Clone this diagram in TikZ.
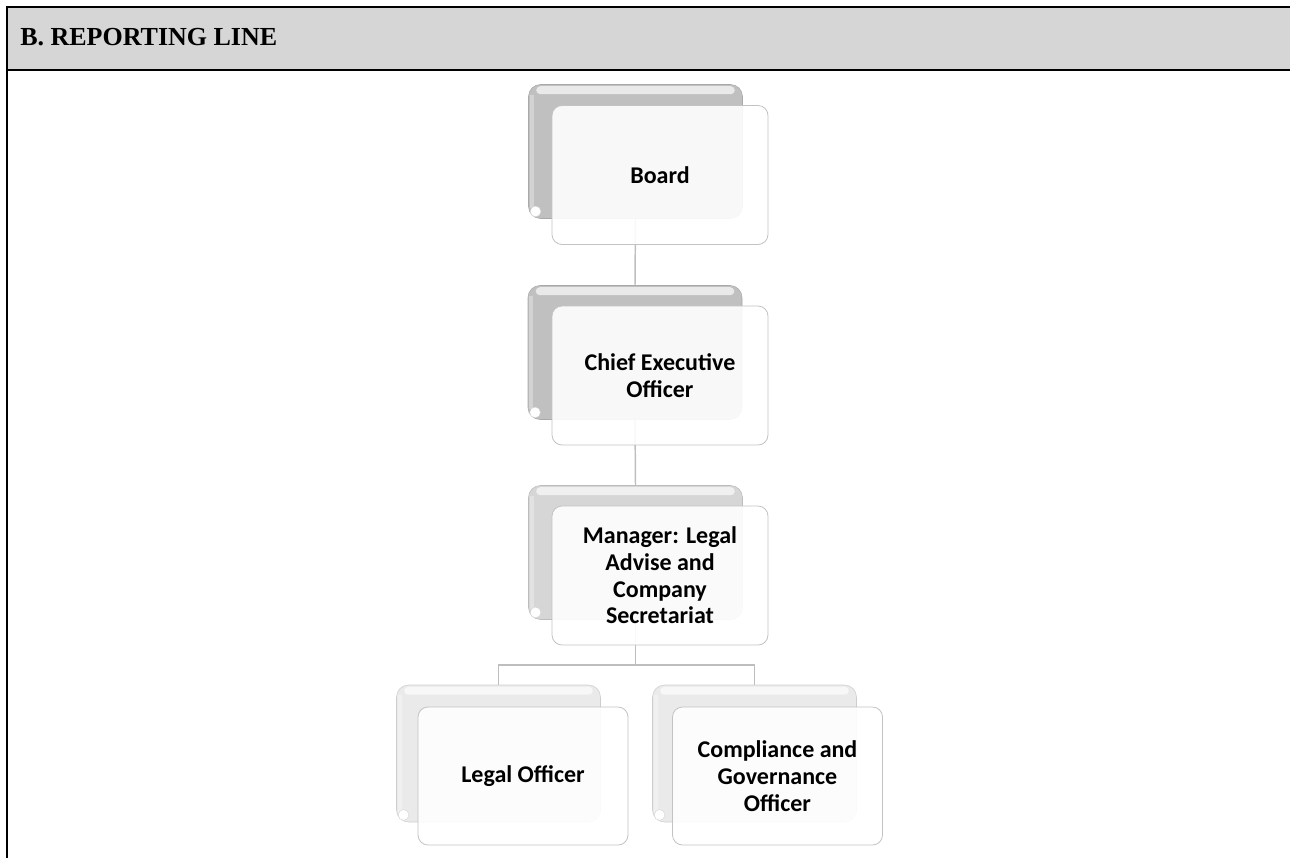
\documentclass[tikz,border=0pt]{standalone}
\usepackage{fontspec}
\setmainfont{Liberation Serif}
\newfontfamily\boxfont{Carlito}
\definecolor{hdrgray}{RGB}{214,214,214}
\definecolor{backA}{RGB}{192,192,192}
\definecolor{backB}{RGB}{214,214,214}
\definecolor{backC}{RGB}{234,234,234}
\definecolor{frontline}{RGB}{195,195,195}
\definecolor{conn}{RGB}{190,190,190}
\tikzset{
  backbox/.style={draw=#1!88!black, fill=#1, rounded corners=9pt, inner sep=0pt, line width=0.4pt},
  backtop/.style={backbox=#1, minimum width=160.5pt, minimum height=100.5pt},
  backlow/.style={backbox=#1, minimum width=153pt, minimum height=102.75pt},
  frontbox/.style={draw=frontline, fill=white, fill opacity=0.9, text opacity=1, rounded corners=7.5pt,
    inner sep=2pt, line width=0.6pt, align=center, font=\boxfont\bfseries\fontsize{18}{20}\selectfont},
  fronttop/.style={frontbox, minimum width=162pt, minimum height=104.25pt},
  frontlow/.style={frontbox, minimum width=157.5pt, minimum height=103.5pt},
  connector/.style={draw=conn, line width=1.1pt},
  frameline/.style={draw=black, line width=1.8pt}
}
\newcommand{\gloss}[1]{%
  \fill[white, opacity=0.65, rounded corners=3pt] ([xshift=6pt,yshift=-1.5pt]#1.north west) rectangle ([xshift=-6pt,yshift=-7.5pt]#1.north east);
  \fill[white, opacity=0.3] ([xshift=1pt,yshift=-8pt]#1.north west) rectangle ([xshift=4pt,yshift=8pt]#1.south west);
  \fill[white, draw=gray!35, line width=0.25pt] ([xshift=5.5pt,yshift=5.5pt]#1.south west) circle (4pt);
}
\begin{document}
\begin{tikzpicture}[x=0.75pt, y=-0.75pt]
\useasboundingbox (0,0) rectangle (1290,858);
% header
\fill[hdrgray] (7,7) rectangle (1291,70);
\draw[frameline] (1291,7) -- (7,7) -- (7,858);
\draw[frameline] (7,70) -- (1291,70);
\node[anchor=base west, inner sep=0pt, font=\bfseries\fontsize{19.5}{22}\selectfont] (title) at (20,45) {B. REPORTING LINE};

% back boxes
\node[backtop=backA] (boardback) at (635.5,151.5) {};
\node[backtop=backA] (ceoback) at (635,352.5) {};
\node[backtop=backB] (mgrback) at (635.5,552.5) {};
\node[backlow=backC] (legalback) at (498.5,753.5) {};
\node[backlow=backC] (compback) at (754.5,753.5) {};
\gloss{boardback}
\gloss{ceoback}
\gloss{mgrback}
\gloss{legalback}
\gloss{compback}

% connectors
\draw[connector] (boardback.south) -- (ceoback.north);
\draw[connector] (ceoback.south) -- (mgrback.north);
\draw[connector] (mgrback.south) -- ++(0,45) coordinate (split) -| (legalback.north);
\draw[connector] (split) -| (compback.north);

% front boxes
\node[fronttop] (board) at (660,175) {Board};
\node[fronttop] (ceo) at (660,375.5) {Chief Executive\\Officer};
\node[fronttop] (mgr) at (660,575.5) {Manager: Legal\\Advise and\\Company\\Secretariat};
\node[frontlow] (legal) at (523,776) {Legal Officer};
\node[frontlow] (comp) at (777.5,776) {Compliance and\\Governance\\Officer};
\end{tikzpicture}
\end{document}
